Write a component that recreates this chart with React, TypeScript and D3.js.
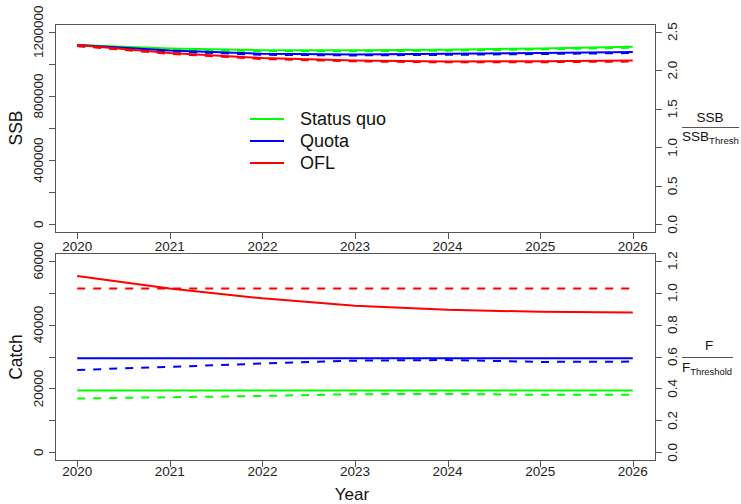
import * as d3 from "d3";

const years = [2020, 2021, 2022, 2023, 2024, 2025, 2026];

// SSB (left axis) and SSB/SSB_thresh (right axis) by scenario
const ssbStatusQuo = [1117000, 1095000, 1085000, 1084000, 1088000, 1096000, 1106000];
const ssbQuota = [1117000, 1083000, 1062000, 1058000, 1062000, 1067000, 1073000];
const ssbOFL = [1117000, 1068000, 1036000, 1021000, 1015000, 1016000, 1020000];
const ratioStatusQuo = [2.315, 2.269, 2.248, 2.246, 2.254, 2.271, 2.292];
const ratioQuota = [2.315, 2.244, 2.2, 2.192, 2.2, 2.21, 2.223];
const ratioOFL = [2.315, 2.2125, 2.146, 2.115, 2.102, 2.104, 2.1125];

// Catch (left axis) and F/F_threshold (right axis) by scenario
const catchStatusQuo = [19370, 19370, 19370, 19370, 19370, 19370, 19370];
const catchQuota = [29470, 29470, 29470, 29470, 29470, 29470, 29470];
const catchOFL = [55200, 51300, 48200, 45900, 44600, 44000, 43800];
const fStatusQuo = [0.337, 0.345, 0.353, 0.364, 0.366, 0.36, 0.36];
const fQuota = [0.516, 0.535, 0.556, 0.574, 0.578, 0.566, 0.568];
const fOFL = [1.025, 1.025, 1.025, 1.025, 1.025, 1.025, 1.025];

const ssbTicks = [0, 200000, 400000, 600000, 800000, 1000000, 1200000];
const ssbLabelTicks = [0, 400000, 800000, 1200000];
const ssbRatioTicks = [0, 0.5, 1.0, 1.5, 2.0, 2.5];
const catchTicks = [0, 10000, 20000, 30000, 40000, 50000, 60000];
const catchLabelTicks = [0, 20000, 40000, 60000];
const fTicks = [0, 0.2, 0.4, 0.6, 0.8, 1.0, 1.2];

const legendItems = [
  { name: "Status quo", color: "#00ff00" },
  { name: "Quota", color: "#0000ff" },
  { name: "OFL", color: "#ff0000" },
];

const font = "'Liberation Sans', Arial, Helvetica, sans-serif";
const axisColor = "#555";

const x = d3.scaleLinear().domain([2019.76, 2026.24]).range([55, 655]);

const top = { y0: 24, y1: 232 };
const bot = { y0: 253, y1: 460 };

const ySSB = d3.scaleLinear().domain([-48000, 1248000]).range([top.y1, top.y0]);
const ySSBRatio = d3.scaleLinear().domain([-0.1, 2.6]).range([top.y1, top.y0]);
const yCatch = d3.scaleLinear().domain([-2400, 62400]).range([bot.y1, bot.y0]);
const yF = d3.scaleLinear().domain([-0.048, 1.248]).range([bot.y1, bot.y0]);

function linePath(vals: number[], y: d3.ScaleLinear<number, number>) {
  const gen = d3
    .line<number>()
    .x((_, i) => x(years[i]))
    .y((d) => y(d));
  return gen(vals) || "";
}

function Series({
  vals,
  y,
  color,
  dashed,
}: {
  vals: number[];
  y: d3.ScaleLinear<number, number>;
  color: string;
  dashed?: boolean;
}) {
  return (
    <path
      d={linePath(vals, y)}
      fill="none"
      stroke={color}
      strokeWidth={2}
      strokeDasharray={dashed ? "8,8" : undefined}
    />
  );
}

function Panel({
  y0,
  y1,
  yL,
  yR,
  leftTicks,
  leftLabels,
  rightTicks,
  fmtR,
  xLabelY,
}: {
  y0: number;
  y1: number;
  yL: d3.ScaleLinear<number, number>;
  yR: d3.ScaleLinear<number, number>;
  leftTicks: number[];
  leftLabels: number[];
  rightTicks: number[];
  fmtR: (v: number) => string;
  xLabelY: number;
}) {
  return (
    <g>
      <rect x={55.5} y={y0 + 0.5} width={600} height={y1 - y0} fill="none" stroke={axisColor} />
      {/* left axis */}
      <line
        x1={55.5}
        x2={55.5}
        y1={yL(leftTicks[0])}
        y2={yL(leftTicks[leftTicks.length - 1])}
        stroke={axisColor}
      />
      {leftTicks.map((t) => (
        <line key={t} x1={49} x2={55.5} y1={Math.round(yL(t)) + 0.5} y2={Math.round(yL(t)) + 0.5} stroke={axisColor} />
      ))}
      {leftLabels.map((t) => (
        <text
          key={t}
          transform={`translate(43,${yL(t)}) rotate(-90)`}
          textAnchor="middle"
          fontSize={13.5}
          fill="#222"
        >
          {t}
        </text>
      ))}
      {/* right axis */}
      {rightTicks.map((t) => (
        <g key={t}>
          <line x1={655.5} x2={662} y1={Math.round(yR(t)) + 0.5} y2={Math.round(yR(t)) + 0.5} stroke={axisColor} />
          <text
            transform={`translate(677,${yR(t)}) rotate(-90)`}
            textAnchor="middle"
            fontSize={13.5}
            fill="#222"
          >
            {fmtR(t)}
          </text>
        </g>
      ))}
      {/* x axis */}
      {years.map((yr) => (
        <g key={yr}>
          <line x1={Math.round(x(yr)) + 0.5} x2={Math.round(x(yr)) + 0.5} y1={y1 + 0.5} y2={y1 + 7} stroke={axisColor} />
          <text x={x(yr)} y={xLabelY} textAnchor="middle" fontSize={13.5} fill="#222">
            {yr}
          </text>
        </g>
      ))}
    </g>
  );
}

export default function App() {
  return (
    <svg
      width={741}
      height={504}
      style={{ position: "absolute", left: 0, top: 0, background: "#fff" }}
      fontFamily={font}
    >
      <rect width={741} height={504} fill="#fff" />
      <Panel
        y0={top.y0}
        y1={top.y1}
        yL={ySSB}
        yR={ySSBRatio}
        leftTicks={ssbTicks}
        leftLabels={ssbLabelTicks}
        rightTicks={ssbRatioTicks}
        fmtR={(v) => v.toFixed(1)}
        xLabelY={251}
      />
      <Panel
        y0={bot.y0}
        y1={bot.y1}
        yL={yCatch}
        yR={yF}
        leftTicks={catchTicks}
        leftLabels={catchLabelTicks}
        rightTicks={fTicks}
        fmtR={(v) => v.toFixed(1)}
        xLabelY={476}
      />

      {/* top panel series */}
      <Series vals={ssbStatusQuo} y={ySSB} color="#00ff00" />
      <Series vals={ratioStatusQuo} y={ySSBRatio} color="#00ff00" dashed />
      <Series vals={ssbQuota} y={ySSB} color="#0000ff" />
      <Series vals={ratioQuota} y={ySSBRatio} color="#0000ff" dashed />
      <Series vals={ssbOFL} y={ySSB} color="#ff0000" />
      <Series vals={ratioOFL} y={ySSBRatio} color="#ff0000" dashed />

      {/* bottom panel series */}
      <Series vals={catchStatusQuo} y={yCatch} color="#00ff00" />
      <Series vals={fStatusQuo} y={yF} color="#00ff00" dashed />
      <Series vals={catchQuota} y={yCatch} color="#0000ff" />
      <Series vals={fQuota} y={yF} color="#0000ff" dashed />
      <Series vals={catchOFL} y={yCatch} color="#ff0000" />
      <Series vals={fOFL} y={yF} color="#ff0000" dashed />

      {/* legend */}
      {legendItems.map((it, i) => (
        <g key={it.name} transform={`translate(250,${119 + i * 22})`}>
          <line x1={0} x2={34} y1={0} y2={0} stroke={it.color} strokeWidth={2} />
          <text x={50} y={0} dy="0.35em" fontSize={18} fill="#111">
            {it.name}
          </text>
        </g>
      ))}

      {/* axis titles */}
      <text transform="translate(22,128) rotate(-90)" textAnchor="middle" fontSize={17.5} fill="#111">
        SSB
      </text>
      <text transform="translate(22,357) rotate(-90)" textAnchor="middle" fontSize={17.5} fill="#111">
        Catch
      </text>
      <text x={352} y={500} textAnchor="middle" fontSize={17} fill="#111">
        Year
      </text>

      {/* right titles */}
      <text x={710} y={122} textAnchor="middle" fontSize={13.5} fill="#111">
        SSB
      </text>
      <line x1={682} x2={739} y1={127.5} y2={127.5} stroke="#555" />
      <text x={682} y={141} fontSize={13.5} fill="#111">
        SSB<tspan fontSize={9.6} dy={3}>Thresh</tspan>
      </text>

      <text x={709} y={350} textAnchor="middle" fontSize={13.5} fill="#111">
        F
      </text>
      <line x1={682} x2={733} y1={357.5} y2={357.5} stroke="#555" />
      <text x={682} y={372} fontSize={13.5} fill="#111">
        F<tspan fontSize={9.4} dy={3}>Threshold</tspan>
      </text>
    </svg>
  );
}
